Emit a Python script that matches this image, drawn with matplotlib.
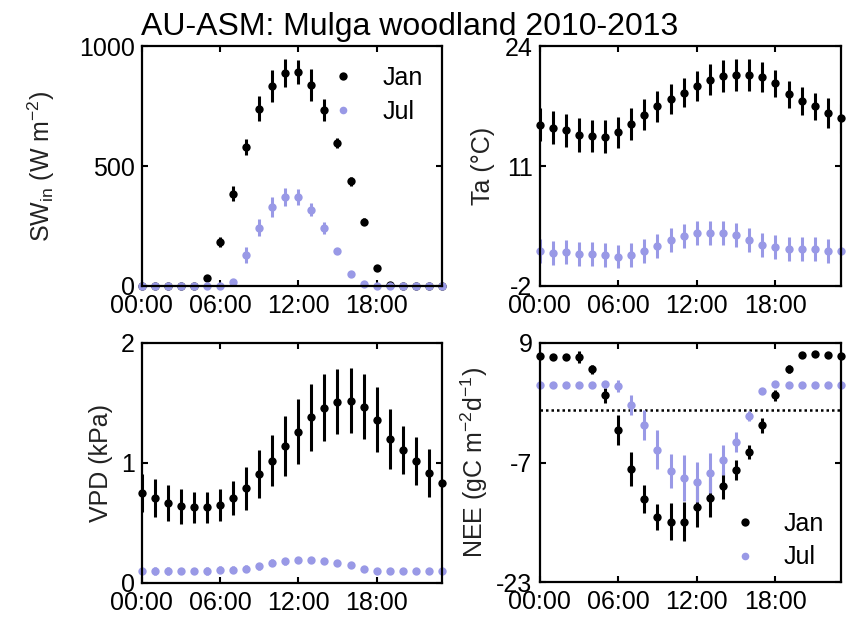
import matplotlib
matplotlib.use("Agg")
import matplotlib.pyplot as plt

plt.rcParams['font.family'] = ['Liberation Sans', 'DejaVu Sans']
plt.rcParams['mathtext.fontset'] = 'custom'
plt.rcParams['mathtext.rm'] = 'Liberation Sans'
plt.rcParams['mathtext.it'] = 'Liberation Sans:italic'

# hour of day (hourly composites)
hours = [0, 1, 2, 3, 4, 5, 6, 7, 8, 9, 10, 11, 12, 13, 14, 15, 16, 17, 18, 19, 20, 21, 22, 23]
tick_hours = [0, 6, 12, 18]
tick_labels = ["00:00", "06:00", "12:00", "18:00"]

# incoming shortwave radiation (W m-2)
sw_jan = [0, 0, 0, 0, 0, 32, 184, 386, 580, 740, 836, 889, 895, 840, 735, 598, 437, 268, 76, 3, 0, 0, 0, 0]
sw_jan_err = [0, 0, 0, 0, 0, 10, 22, 32, 33, 52, 66, 58, 50, 66, 44, 22, 19, 14, 8, 0, 0, 0, 0, 0]
sw_jul = [0, 0, 0, 0, 0, 0, 0, 18, 129, 244, 330, 372, 372, 319, 243, 147, 50, 7, 0, 0, 0, 0, 0, 0]
sw_jul_err = [0, 0, 0, 0, 0, 0, 0, 8, 33, 37, 40, 38, 33, 28, 24, 10, 6, 0, 0, 0, 0, 0, 0, 0]

# air temperature (degC)
ta_jan = [15.5, 15.2, 14.9, 14.4, 14.3, 14.2, 14.7, 15.6, 16.6, 17.5, 18.3, 19.0,
          19.7, 20.4, 20.8, 20.9, 20.9, 20.7, 20.0, 18.8, 18.1, 17.5, 16.8, 16.2]
ta_jan_err = [1.8, 1.8, 1.8, 1.8, 1.7, 1.8, 1.7, 1.7, 1.7, 1.7, 1.6, 1.6,
              1.6, 1.7, 1.7, 1.7, 1.7, 1.6, 1.5, 1.5, 1.5, 1.5, 1.6, 1.6]
ta_jul = [1.8, 1.6, 1.7, 1.5, 1.5, 1.4, 1.2, 1.4, 1.8, 2.3, 3.0, 3.4,
          3.8, 3.8, 3.8, 3.5, 3.0, 2.5, 2.2, 2.0, 2.0, 2.0, 1.8, 1.8]
ta_jul_err = [1.3, 1.3, 1.3, 1.3, 1.3, 1.3, 1.3, 1.3, 1.3, 1.3, 1.3, 1.3,
              1.3, 1.3, 1.3, 1.3, 1.3, 1.3, 1.3, 1.3, 1.3, 1.3, 1.3, 1.3]

# vapour pressure deficit (kPa)
vpd_jan = [0.75, 0.71, 0.67, 0.64, 0.63, 0.63, 0.65, 0.71, 0.79, 0.91, 1.02, 1.14,
           1.26, 1.38, 1.46, 1.51, 1.52, 1.47, 1.36, 1.20, 1.11, 1.02, 0.92, 0.83]
vpd_jan_err = [0.16, 0.16, 0.15, 0.145, 0.13, 0.13, 0.13, 0.14, 0.18, 0.20, 0.21, 0.25,
               0.27, 0.28, 0.28, 0.27, 0.27, 0.27, 0.27, 0.25, 0.20, 0.20, 0.20, 0.20]
vpd_jul = [0.10, 0.10, 0.10, 0.10, 0.10, 0.10, 0.11, 0.11, 0.12, 0.14, 0.17, 0.18,
           0.19, 0.19, 0.18, 0.17, 0.15, 0.12, 0.10, 0.10, 0.10, 0.10, 0.10, 0.10]
vpd_jul_err = [0.02, 0.03, 0.03, 0.02, 0.02, 0.03, 0.03, 0.03, 0.03, 0.03, 0.03, 0.03,
               0.02, 0.02, 0.02, 0.02, 0.01, 0.02, 0.02, 0.02, 0.02, 0.02, 0.02, 0.02]

# net ecosystem exchange (gC m-2 d-1)
nee_jan = [7.3, 7.1, 7.1, 7.1, 5.5, 2.0, -2.6, -7.9, -11.9, -14.3, -14.9, -14.9,
           -12.9, -11.7, -10.1, -8.0, -5.6, -2.0, 2.0, 5.5, 7.4, 7.5, 7.4, 7.3]
nee_jan_err = [0.3, 0.3, 0.3, 0.8, 0.6, 1.0, 2.0, 2.3, 1.9, 1.8, 2.5, 2.6,
               2.7, 2.6, 1.8, 1.35, 0.9, 1.0, 0.7, 0.5, 0.3, 0.3, 0.3, 0.3]
nee_jul = [3.4, 3.4, 3.4, 3.4, 3.4, 3.5, 3.25, 0.7, -2.0, -5.3, -8.1, -9.1,
           -9.65, -8.4, -6.7, -4.3, -0.8, 2.6, 3.5, 3.4, 3.4, 3.4, 3.4, 3.4]
nee_jul_err = [0.1, 0.1, 0.1, 0.1, 0.1, 0.3, 0.8, 1.3, 2.0, 2.6, 2.3, 3.1,
               2.7, 2.7, 2.0, 1.35, 0.7, 0.2, 0.1, 0.1, 0.1, 0.1, 0.1, 0.1]

JAN_COLOR = "black"
JUL_COLOR = "#9999e6"
FS = 18
MS = 6

W, H = 846, 617
fig = plt.figure(figsize=(W / 100, H / 100), dpi=100)


def px_axes(left, top, right, bottom):
    return fig.add_axes([left / W, 1 - bottom / H, (right - left) / W, (bottom - top) / H])


ax_sw = px_axes(141.5, 46.5, 442, 286)
ax_ta = px_axes(539.5, 46.5, 841, 286)
ax_vpd = px_axes(141.5, 343, 442, 583)
ax_nee = px_axes(539.5, 343, 841, 582)


def panel(ax, jan, jan_err, jul, jul_err, ylim, yticks, ylabel, labelpad):
    for vals, errs, col in ((jan, jan_err, JAN_COLOR), (jul, jul_err, JUL_COLOR)):
        cont = ax.errorbar(hours, vals, yerr=errs, fmt='o', color=col, ms=MS,
                           elinewidth=2.2, capsize=3.2, capthick=2.2, mew=0)
        cont.lines[0].set_clip_on(False)
    ax.set_xlim(0, 23)
    ax.set_ylim(*ylim)
    ax.set_xticks(tick_hours)
    ax.set_xticklabels(tick_labels)
    ax.set_yticks(yticks)
    ax.set_yticklabels([str(v) for v in yticks])
    ax.tick_params(direction='in', length=4, width=1.5, top=True, right=True,
                   labelsize=FS, colors='black', pad=5)
    ax.tick_params(axis='x', pad=6)
    for sp in ax.spines.values():
        sp.set_linewidth(1.6)
    ax.set_ylabel(ylabel, fontsize=FS, labelpad=labelpad, color='#222222')


panel(ax_sw, sw_jan, sw_jan_err, sw_jul, sw_jul_err, (0, 1000), [0, 500, 1000],
      r"SW$_{\mathrm{in}}$ (W m$^{-2}$)", 15.5)
panel(ax_ta, ta_jan, ta_jan_err, ta_jul, ta_jul_err, (-2, 24), [-2, 11, 24],
      "Ta (\u00b0C)", 7.3)
panel(ax_vpd, vpd_jan, vpd_jan_err, vpd_jul, vpd_jul_err, (0, 2), [0, 1, 2],
      "VPD (kPa)", 5.5)
panel(ax_nee, nee_jan, nee_jan_err, nee_jul, nee_jul_err, (-23, 9), [-23, -7, 9],
      r"NEE (gC m$^{-2}$d$^{-1}$)", 4.5)

ax_nee.axhline(0, color='black', linestyle=(0, (1, 1.2)), linewidth=1.8, zorder=0.5)

legend_kw = dict(frameon=False, fontsize=FS, handlelength=1.0, handletextpad=1.05,
                 labelspacing=0.38, borderpad=0, borderaxespad=0, loc='upper left')
for ax, anchor in ((ax_sw, (0.63, 0.918)), (ax_nee, (0.64, 0.293))):
    h1 = plt.Line2D([], [], marker='o', ls='', color=JAN_COLOR, ms=MS, mew=0)
    h2 = plt.Line2D([], [], marker='o', ls='', color=JUL_COLOR, ms=MS - 0.5, mew=0)
    ax.legend([h1, h2], ["Jan", "Jul"], bbox_to_anchor=anchor, **legend_kw)

fig.text(410 / W, 1 - 35 / H, "AU-ASM: Mulga woodland 2010-2013", ha='center',
         va='baseline', fontsize=23)

fig.savefig("out.png", dpi=100)
